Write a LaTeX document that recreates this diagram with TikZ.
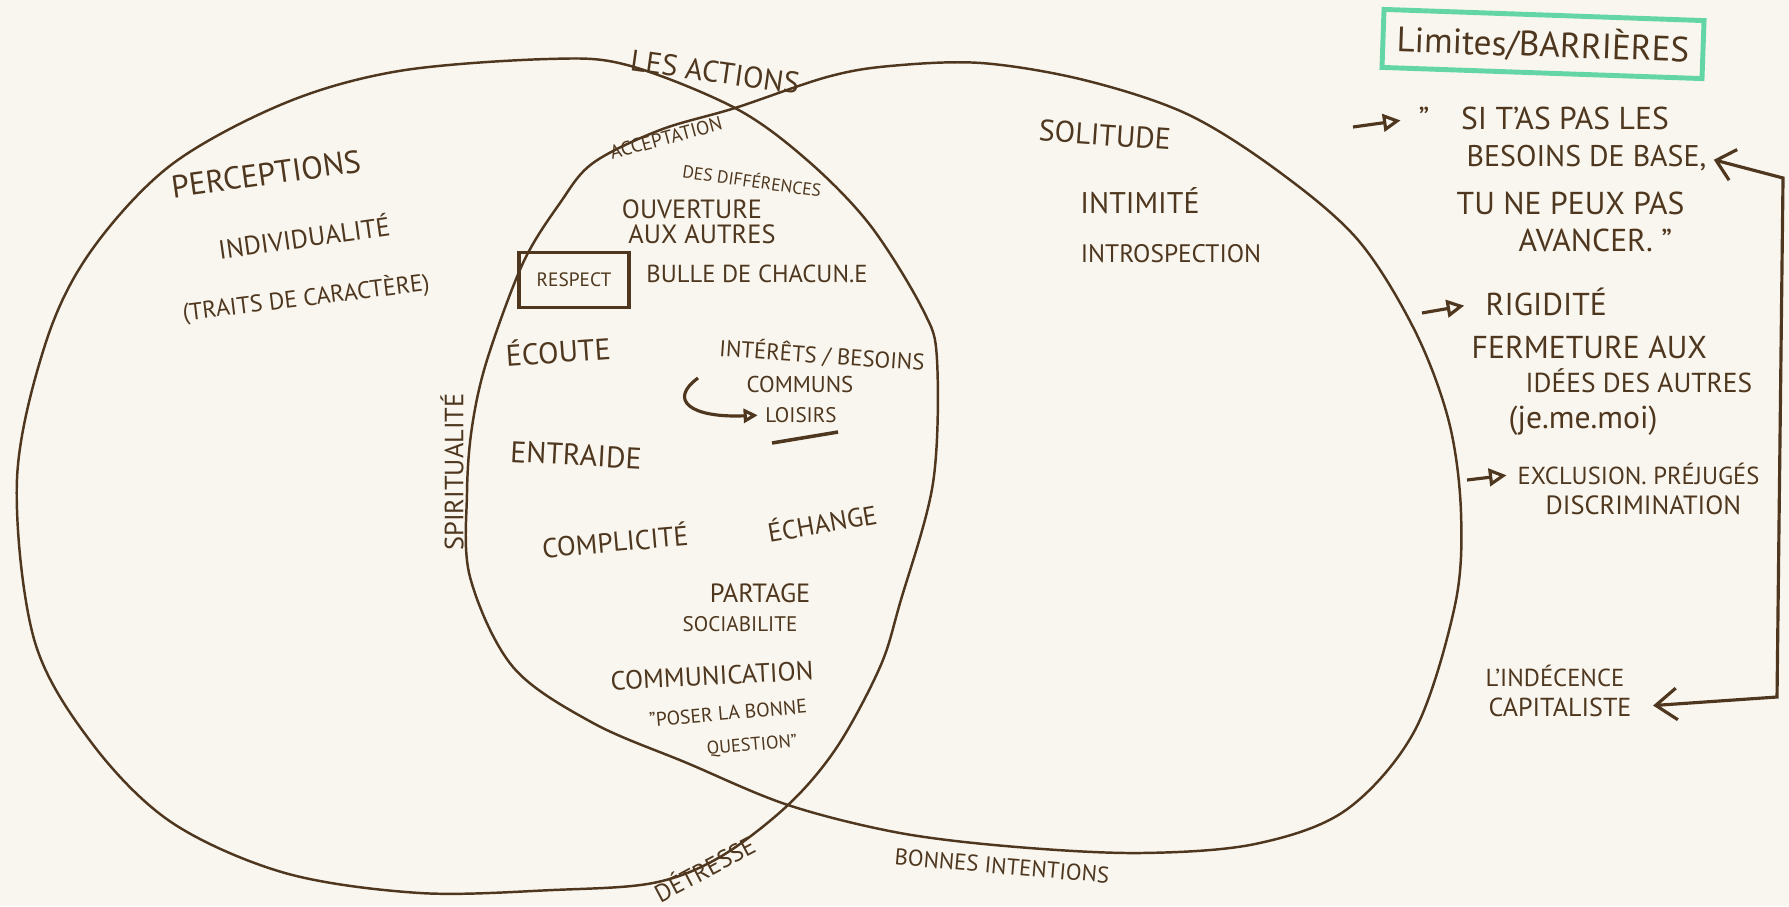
\documentclass[tikz,border=0pt]{standalone}
\usepackage{fontspec}
\setmainfont{PT Sans}
\usepackage{tikz}
\usetikzlibrary{arrows.meta}
\definecolor{ink}{RGB}{78,55,30}
\definecolor{paper}{RGB}{249,246,239}
\definecolor{mint}{RGB}{100,214,166}
\newcommand{\fs}[1]{\fontsize{#1}{#1}\selectfont}

\begin{document}
\begin{tikzpicture}[x=0.01cm, y=-0.01cm,
    blob/.style={draw=ink, line width=0.7pt},
    word/.style={text=ink, inner sep=0pt, font=\fs{8}},
    pointer/.style={draw=ink, line width=0.9pt, -{Triangle[open, length=5pt, width=5pt]}},
    barb/.style={draw=ink, line width=0.9pt, {Straight Barb[length=5pt, width=9pt]}-{Straight Barb[length=6pt, width=9pt]}}]
    \fill [paper] (0,0) rectangle (1789,906);
    \useasboundingbox (0,0) rectangle (1789,906);

    % the two circles
    \draw [blob] plot [smooth cycle, tension=0.55] coordinates {(17,479) (46,342) (91,251) (171,165) (285,103) (399,71) (548,59) (627,65) (735,108) (807,160) (870,225) (923,310) (937,360) (933,483) (900,603) (880,667) (837,747) (788,805) (720,857) (653,883) (553,890) (420,893) (285,873) (171,822) (91,742) (34,639)};
    \draw [blob] plot [smooth cycle, tension=0.55] coordinates {(735,108) (660,130) (593,163) (560,203) (523,263) (487,360) (472,427) (467,493) (470,577) (513,667) (593,723) (687,763) (788,805) (900,833) (1017,847) (1141,853) (1255,844) (1346,810) (1415,730) (1455,605) (1461,513) (1449,422) (1415,331) (1358,240) (1278,171) (1187,114) (1084,80) (981,63) (890,66) (827,77)};

    % around the circles
    \node [word, rotate=-8, font=\fs{8.5}] (actions) at (715,72) {LES ACTIONS};
    \node [word, rotate=90, font=\fs{7.5}] (spirit) at (452,472) {SPIRITUALITÉ};
    \node [word, rotate=28, font=\fs{7}] (detresse) at (704,868) {DÉTRESSE};
    \node [word, rotate=-5, font=\fs{6.5}] (intentions) at (1002,866) {BONNES INTENTIONS};

    % left part
    \node [word, rotate=8, font=\fs{9}] (percept) at (266,174) {PERCEPTIONS};
    \node [word, rotate=8, font=\fs{7.5}] (indiv) at (304,236) {INDIVIDUALITÉ};
    \node [word, rotate=7, font=\fs{6.8}] (traits) at (306,298) {(TRAITS DE CARACTÈRE)};

    % middle part
    \node [word, rotate=15, font=\fs{5.5}] (accept) at (666,138) {ACCEPTATION};
    \node [word, rotate=-8, font=\fs{5}] (diff) at (752,180) {DES DIFFÉRENCES};
    \node [word, font=\fs{7.5}] (ouvert) at (692,209) {OUVERTURE};
    \node [word, font=\fs{7.5}] (autres) at (702,234) {AUX AUTRES};
    \node [word, draw=ink, line width=0.9pt, minimum width=1.1cm, minimum height=0.55cm, font=\fs{5.5}] (respect) at (574,280) {RESPECT};
    \node [word, font=\fs{7}] (bulle) at (757,274) {BULLE DE CHACUN.E};
    \node [word, rotate=4, font=\fs{8.5}] (ecoute) at (558,350) {ÉCOUTE};
    \node [word, rotate=-4, font=\fs{6.5}] (interets) at (822,355) {INTÉRÊTS / BESOINS};
    \node [word, font=\fs{6.5}] (communs) at (800,384) {COMMUNS};
    \node [word, font=\fs{6}] (loisirs) at (801,415) {LOISIRS};
    \node [word, rotate=-3, font=\fs{8.5}] (entraide) at (576,455) {ENTRAIDE};
    \node [word, rotate=5, font=\fs{7.8}] (complic) at (615,540) {COMPLICITÉ};
    \node [word, rotate=10, font=\fs{7.5}] (echange) at (822,522) {ÉCHANGE};
    \node [word, font=\fs{7.5}] (partage) at (760,593) {PARTAGE};
    \node [word, font=\fs{6}] (sociab) at (740,624) {SOCIABILITE};
    \node [word, rotate=3, font=\fs{7.5}] (commu) at (712,676) {COMMUNICATION};
    \node [word, rotate=5, font=\fs{5.6}] (poser) at (728,713) {"POSER LA BONNE};
    \node [word, rotate=5, font=\fs{5.2}] (question) at (752,746) {QUESTION"};
    \coordinate (c1) at (698,378);
    \draw [pointer, -{Triangle[open, length=4pt, width=4pt]}, shorten >=2pt] (c1) .. controls (668,400) and (690,418) .. (loisirs.west);
    \draw [ink, line width=1pt] (772,443) -- (838,432);

    % right part
    \node [word, rotate=-4, font=\fs{8.5}] (solitude) at (1105,135) {SOLITUDE};
    \node [word, font=\fs{8.5}] (intimite) at (1140,201) {INTIMITÉ};
    \node [word, font=\fs{7.2}] (introsp) at (1171,254) {INTROSPECTION};

    % limites
    \node [word, draw=mint, line width=1.4pt, rotate=-2, minimum width=3.2cm, minimum height=0.58cm, font=\fs{10}] (limites) at (1543,44) {Limites/BARRIÈRES};
    \node [word, anchor=west, font=\fs{9}] (quoteA) at (1418,118) {"\hspace{9pt}SI T'AS PAS LES};
    \node [word, anchor=west, font=\fs{8.5}] (quoteB) at (1466,158) {BESOINS DE BASE,};
    \node [word, anchor=west, font=\fs{9}] (quoteC) at (1456,203) {TU NE PEUX PAS};
    \node [word, anchor=west, font=\fs{9}] (quoteD) at (1518,240) {AVANCER. "};
    \node [word, anchor=west, font=\fs{9}] (rigid) at (1485,302) {RIGIDITÉ};
    \node [word, anchor=west, font=\fs{9}] (ferm) at (1471,347) {FERMETURE AUX};
    \node [word, anchor=west, font=\fs{7.8}] (idees) at (1525,381) {IDÉES DES AUTRES};
    \node [word, anchor=west, font=\fs{9}] (jemoi) at (1508,421) {(je.me.moi)};
    \node [word, anchor=west, font=\fs{7}] (excl) at (1517,474) {EXCLUSION. PRÉJUGÉS};
    \node [word, anchor=west, font=\fs{7.5}] (discr) at (1545,505) {DISCRIMINATION};
    \node [word, anchor=west, font=\fs{7}] (indec) at (1485,676) {L'INDÉCENCE};
    \node [word, anchor=west, font=\fs{7.4}] (capit) at (1488,707) {CAPITALISTE};

    \coordinate (a1) at (1353,127);
    \coordinate (a2) at (1422,313);
    \coordinate (a3) at (1467,480);
    \coordinate (bk1) at (1783,178);
    \coordinate (bk2) at (1777,697);
    \draw [pointer, shorten >=5pt] (a1) -- (quoteA.west);
    \draw [pointer, shorten >=6pt] (a2) -- (rigid.west);
    \draw [pointer, shorten >=3pt] (a3) -- (excl.west);
    \draw [barb, shorten <=2pt, shorten >=6pt] (quoteB.east) -- (bk1) -- (bk2) -- (capit.east);
\end{tikzpicture}
\end{document}
